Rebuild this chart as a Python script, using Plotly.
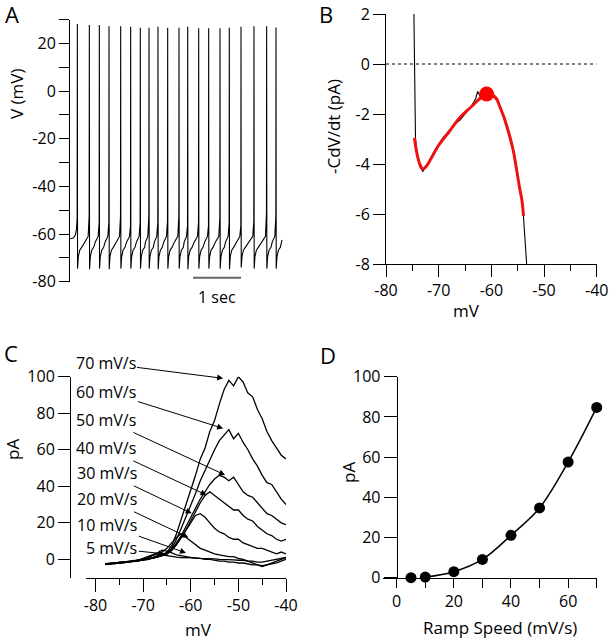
import plotly.graph_objects as go

W, H = 609, 640
FONT = "Open Sans"

# ---------------- Panel A data: spontaneous firing ----------------
spike_t = [0.153, 0.403, 0.611, 0.813, 1.056, 1.264, 1.465, 1.646, 1.833, 2.035,
           2.271, 2.452, 2.681, 2.889, 3.125, 3.319, 3.563, 3.833, 4.097, 4.292]
spike_peak = [28.1, 27.7, 27.7, 27.2, 27.2, 27.0, 26.5, 26.5, 27.0, 26.5,
              26.5, 27.0, 26.3, 26.3, 26.3, 26.5, 27.0, 27.2, 27.2, 26.6]
spike_thresh = [-53.4, -52.4, -55.2, -55.2, -52.4, -56.9, -55.2, -52.7, -55.2, -54.5,
                -52.4, -56.6, -55.2, -56.6, -53.4, -55.5, -56.6, -54.8, -51.3, -52.7]
spike_trough = [-74.5, -74.8, -74.5, -74.8, -74.5, -74.5, -74.5, -74.5, -74.8, -74.5,
                -74.5, -74.8, -74.5, -74.5, -74.5, -74.8, -74.0, -74.5, -74.5, -74.5]
lead_t = [0.0, 0.06, 0.11, 0.135]
lead_v = [-62.0, -61.8, -60.5, -58.0]
rec_dt = [0.02, 0.05, 0.09]          # after each spike
rec_v = [-69.5, -66.8, -65.6]
late_frac, late_v = 0.6, -63.3
pre_dt, pre_v = 0.025, -61.0
end_t, end_v = 4.417, -62.5
scalebar_t = [2.5625, 3.5625]
scalebar_v = [-78.3, -78.3]

# ---------------- Panel B data: I-V from -CdV/dt ----------------
b_black_v = [-74.7, -74.6, -74.5, -74.4, -74.1, -73.6, -73.0, -72.4, -71.8, -71.0, -70.0,
             -69.0, -68.0, -67.0, -66.0, -65.0, -64.0, -63.0, -62.6, -62.0, -61.0, -60.0,
             -59.5, -59.0, -58.4, -57.5, -56.5, -55.8, -55.2, -54.6, -54.2, -53.9, -53.6, -53.3]
b_black_i = [2.0, 0.0, -2.0, -3.0, -3.6, -4.1, -4.3, -4.1, -3.9, -3.55, -3.2,
             -2.9, -2.75, -2.4, -2.25, -2.0, -1.75, -1.4, -1.1, -1.35, -1.2, -1.2,
             -1.3, -1.35, -1.7, -2.2, -2.9, -3.5, -4.24, -5.0, -5.44, -6.1, -7.0, -8.0]
b_fit_v = [-74.6, -74.2, -73.6, -73.0, -72.4, -71.5, -70.0, -68.0, -66.0, -64.0, -62.0,
           -61.0, -60.0, -59.0, -58.4, -57.5, -56.5, -55.8, -55.2, -54.6, -54.2, -53.9]
b_fit_i = [-2.95, -3.5, -4.0, -4.2, -4.1, -3.8, -3.25, -2.7, -2.15, -1.75, -1.35,
           -1.22, -1.22, -1.4, -1.7, -2.2, -2.9, -3.5, -4.24, -5.0, -5.44, -6.08]
b_peak_v = [-60.9]
b_peak_i = [-1.2]
b_zero_v = [-80, -40]
b_zero_i = [0, 0]

# ---------------- Panel C data: ramp currents ----------------
c_mv = list(range(-78, -39))
c_labels = ["70 mV/s", "60 mV/s", "50 mV/s", "40 mV/s", "30 mV/s", "20 mV/s", "10 mV/s", "5 mV/s"]
c70 = [-2.8, -2.2, -2.5, -1.6, -1.9, -1.2, -1.0, -0.4, -0.6, 0.3, 0.8, 1.5,
       2.5, 4.0, 7.5, 14, 22, 29, 38, 46, 55, 61, 70, 76, 85, 93, 98, 95, 100, 97,
       91, 89, 82, 77, 70, 65, 61, 57, 55]
c60 = [-2.5, -2.6, -2.0, -2.1, -1.5, -1.4, -0.8, -0.9, -0.2, 0.2, 1.0, 1.2,
       2.0, 3.5, 6, 11, 17, 23, 29, 36, 43, 49, 55, 60, 65, 68, 71, 66, 69, 64,
       60, 55, 51, 46, 42, 41, 37, 33, 30]
c50 = [-2.3, -2.7, -1.8, -2.2, -1.3, -1.6, -0.6, -1.0, 0.0, -0.2, 0.9, 1.3,
       2, 3, 5, 9, 13, 18, 23, 28, 33, 37, 41, 44, 46, 45, 43, 45, 41, 37,
       35, 34, 31, 28, 25, 24, 22, 20, 19]
c40 = [-2.6, -2.4, -2.2, -1.8, -1.7, -1.3, -1.1, -0.5, -0.3, 0.4, 0.6, 1.4,
       2, 3, 5, 8, 12, 16, 21, 26, 31, 35, 37, 35, 33, 31, 29, 27, 27, 24,
       22, 21, 18, 16, 14, 13, 11, 10, 11]
c30 = [-2.9, -2.5, -2.3, -2.0, -1.8, -1.5, -0.9, -0.7, -0.1, 0.0, 0.7, 1.6,
       2.2, 3, 5, 8, 12, 16, 20, 24, 25, 23, 20, 17, 15, 14, 12, 11, 11, 9,
       8, 7, 6, 6, 5, 4, 3, 4, 3]
c20 = [-2.4, -2.3, -2.1, -1.9, -1.6, -1.2, -1.2, -0.6, -0.4, 0.2, 1.0, 2.0,
       4, 6, 9, 12, 14, 12, 10, 8, 6, 5, 4, 3, 2.5, 2, 1.5, 1.5, 0.5, 0,
       -1, -2, -3, -4, -3, -2, -1, 0, 1]
c10 = [-2.7, -2.4, -2.4, -1.9, -1.5, -1.3, -0.8, -0.5, 0.5, 1.5, 2.5, 3.5,
       5, 4.5, 3.5, 2.5, 2, 1.5, 1, 0.5, 0.5, 0, 0, -0.5, -1, -1, -1.5, -1.5, -2, -2,
       -2.5, -3, -3, -3.5, -3, -2.5, -2, -1, 0]
c5 = [-2.5, -2.2, -2.3, -1.7, -1.6, -1.0, -0.9, -0.3, 0.2, 1.0, 2.0, 3.0,
      2.5, 2, 1.5, 1.2, 1, 1, 0.8, 0.8, 0.5, 0.5, 0.3, 0.3, 0, 0, 0, -0.3, -0.5, -0.5,
      -1, -1, -1.5, -1.5, -1, -0.5, 0, 0.5, 1]
c_series = [c70, c60, c50, c40, c30, c20, c10, c5]
# arrow heads (mV, pA) and label centres (mV, pA)
c_head_mv = [-53.2, -53.2, -52.8, -56.7, -59.8, -60.5, -61.0, -65.5]
c_head_pa = [99.1, 71.7, 46.2, 35.2, 25.2, 12.0, 3.5, 3.0]
c_lab_mv = [-77.9, -77.7, -77.7, -77.7, -77.5, -77.5, -77.5, -76.6]
c_lab_pa = [107.3, 91.8, 76.3, 60.8, 47.1, 32.9, 18.8, 6.0]

# ---------------- Panel D data ----------------
ramp_speed = [5, 10, 20, 30, 40, 50, 60, 70]
peak_pa = [0.0, 0.3, 3.0, 9.1, 21.1, 34.7, 57.5, 84.7]

# ---------------- build A trace ----------------
at, av = list(lead_t), list(lead_v)
for i, ts in enumerate(spike_t):
    at += [ts - 0.004, ts, ts + 0.004]
    av += [spike_thresh[i], spike_peak[i], spike_trough[i]]
    for dt, vv in zip(rec_dt, rec_v):
        at.append(ts + dt)
        av.append(vv)
    if i + 1 < len(spike_t):
        isi = spike_t[i + 1] - ts
        at += [ts + late_frac * isi, spike_t[i + 1] - pre_dt]
        av += [late_v, pre_v]
    else:
        at.append(end_t)
        av.append(end_v)

def fx(p):
    return p / W

def fy(p):
    return 1 - p / H

def hy(vals):
    return [str(v) for v in vals]

fig = go.Figure()
LW = 1.1
fig.add_trace(go.Scatter(x=at, y=av, mode="lines", line=dict(color="black", width=LW),
                         xaxis="x", yaxis="y"))
fig.add_trace(go.Scatter(x=scalebar_t, y=scalebar_v, mode="lines",
                         line=dict(color="#666666", width=2), xaxis="x", yaxis="y"))

fig.add_trace(go.Scatter(x=b_zero_v, y=b_zero_i, mode="lines",
                         line=dict(color="black", width=1, dash="3px,3px"), xaxis="x2", yaxis="y2"))
fig.add_trace(go.Scatter(x=b_black_v, y=b_black_i, mode="lines",
                         line=dict(color="black", width=LW), xaxis="x2", yaxis="y2"))
fig.add_trace(go.Scatter(x=b_fit_v, y=b_fit_i, mode="lines", line_shape="spline",
                         line=dict(color="#ee1111", width=3), xaxis="x2", yaxis="y2"))
fig.add_trace(go.Scatter(x=b_peak_v, y=b_peak_i, mode="markers",
                         marker=dict(color="#ff0000", size=15), xaxis="x2", yaxis="y2"))

for ys in c_series:
    fig.add_trace(go.Scatter(x=c_mv, y=ys, mode="lines", line=dict(color="black", width=1.3),
                             xaxis="x3", yaxis="y3"))

fig.add_trace(go.Scatter(x=ramp_speed[1:], y=peak_pa[1:], mode="lines", line_shape="spline",
                         line=dict(color="black", width=1.5), xaxis="x4", yaxis="y4"))
fig.add_trace(go.Scatter(x=ramp_speed, y=peak_pa, mode="markers", cliponaxis=False,
                         marker=dict(color="black", size=11), xaxis="x4", yaxis="y4"))

ax_common = dict(showline=True, linecolor="black", linewidth=1, ticks="outside",
                 tickcolor="black", tickwidth=1, showgrid=False, zeroline=False,
                 automargin=False,
                 tickfont=dict(size=16, family=FONT, color="black"))

a_ticks = [-80, -60, -40, -20, 0, 20]
b_xticks = [-80, -70, -60, -50, -40]
b_yticks = [-8, -6, -4, -2, 0, 2]
c_xticks = [-80, -70, -60, -50, -40]
c_yticks = [0, 20, 40, 60, 80, 100]
d_xticks = [0, 20, 40, 60]
d_yticks = [0, 20, 40, 60, 80, 100]

layout = dict(
    width=W, height=H, margin=dict(l=0, r=0, t=0, b=0, pad=0, autoexpand=False),
    paper_bgcolor="white", plot_bgcolor="white", showlegend=False,
    font=dict(family=FONT, color="black"),
    # A
    xaxis=dict(domain=[fx(70), fx(290)], range=[0, 220 / 48], visible=False, anchor="y",
               automargin=False),
    yaxis=dict(domain=[fy(281.7), fy(19.5)], range=[-80, 30], anchor="x",
               tickvals=a_ticks, ticktext=hy(a_ticks), ticklen=10,
               minor=dict(tickvals=[-70, -50, -30, -10, 10, 30], ticklen=10, ticks="outside",
                          tickcolor="black"), **ax_common),
    # B
    xaxis2=dict(domain=[fx(386), fx(596.7)], range=[-80, -40], anchor="y2",
                tickvals=b_xticks, ticktext=hy(b_xticks), ticklen=12,
                minor=dict(tickvals=[-75, -65, -55, -45], ticklen=6, ticks="outside",
                           tickcolor="black"), **ax_common),
    yaxis2=dict(domain=[fy(264), fy(14)], range=[-8, 2], anchor="x2",
                tickvals=b_yticks, ticktext=hy(b_yticks), ticklen=12, **ax_common),
    # C
    xaxis3=dict(domain=[fx(86), fx(286)], range=[-82, -40], anchor="y3",
                tickvals=c_xticks, ticktext=hy(c_xticks), ticklen=13,
                minor=dict(tickvals=[-75, -65, -55, -45], ticklen=6, ticks="outside",
                           tickcolor="black"), **ax_common),
    yaxis3=dict(domain=[fy(577.6), fy(376.7)], range=[-10, 100], anchor="free",
                position=fx(70), tickvals=c_yticks, ticktext=hy(c_yticks), ticklen=12,
                **ax_common),
    # D
    xaxis4=dict(domain=[fx(382.7), fx(596.7)], range=[-4.9, 70], anchor="y4",
                tickvals=d_xticks, ticktext=hy(d_xticks), ticklen=9,
                minor=dict(tickvals=[10, 30, 50, 70], ticklen=9, ticks="outside",
                           tickcolor="black"), **ax_common),
    yaxis4=dict(domain=[fy(577.7), fy(376.7)], range=[0, 100], anchor="free",
                position=fx(396.7), tickvals=d_yticks, ticktext=hy(d_yticks), ticklen=13,
                **ax_common),
)
fig.update_layout(**layout)

ann = []
def txt(x, y, s, size=17, angle=0):
    ann.append(dict(x=fx(x), y=fy(y), xref="paper", yref="paper", text=s, showarrow=False,
                    textangle=angle, xanchor="center", yanchor="middle",
                    font=dict(size=size, family=FONT, color="black")))

txt(12, 14, "A", 22)
txt(325.5, 14, "B", 22)
txt(11, 353, "C", 22)
txt(328, 355, "D", 22)
txt(17, 94, "V (mV)", 17, -90)
txt(217, 297, "1 sec", 16)
txt(333, 127, "-CdV/dt (pA)", 17, -90)
txt(467, 310, "mV", 17)
txt(12, 450, "pA", 17, -90)
txt(198, 629, "mV", 17)
txt(348, 473, "pA", 17, -90)
txt(500, 627, "Ramp Speed (mV/s)", 17)

for lab, hx, hy_, lx, ly in zip(c_labels, c_head_mv, c_head_pa, c_lab_mv, c_lab_pa):
    ann.append(dict(x=hx, y=hy_, xref="x3", yref="y3", ax=lx, ay=ly, axref="x3", ayref="y3",
                    text=lab, showarrow=True, arrowhead=2, arrowsize=1.2, arrowwidth=1,
                    arrowcolor="black", font=dict(size=16, family=FONT, color="black")))

fig.update_layout(annotations=ann)
fig.write_html(
    "out.html",
    config=dict(displayModeBar=False),
    post_script="document.documentElement.style.margin='0';document.body.style.margin='0';"
                "document.body.style.overflow='hidden';document.documentElement.style.overflow='hidden';",
)
